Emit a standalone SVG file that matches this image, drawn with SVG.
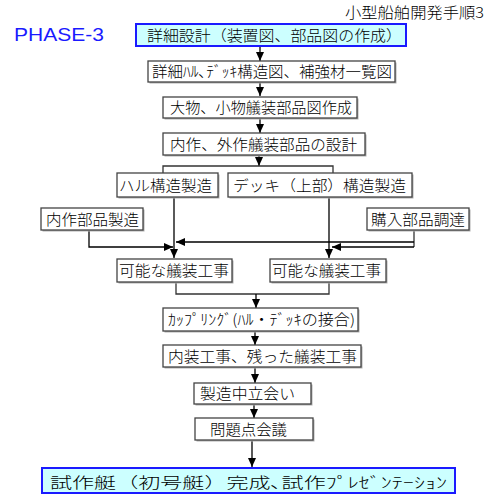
<svg xmlns="http://www.w3.org/2000/svg" width="499" height="500" viewBox="0 0 499 500">
<defs>
<marker id="ah" markerWidth="10" markerHeight="10" refX="9" refY="5" orient="auto" markerUnits="userSpaceOnUse">
<path d="M0,1 L9,5 L0,9 Z" fill="#000"/>
</marker>
</defs>
<style>
.box{fill:#fff;stroke:#444;stroke-width:1.3}
.sh{fill:#b0b0b0}
.hl{fill:#ccffff;stroke:#1a1aff;stroke-width:2}
.t{font-family:"Noto Sans CJK JP","Noto Sans",sans-serif;font-size:15px;font-weight:300;fill:#000}
.c{stroke:#333;stroke-width:1.3;fill:none}
.a{stroke:#000;stroke-width:1.3;fill:none;marker-end:url(#ah)}
</style>
<rect width="499" height="500" fill="#fff"/>
<text class="t" x="345" y="18" font-size="15" textLength="139" lengthAdjust="spacingAndGlyphs">小型船舶開発手順3</text>
<text x="14" y="41" font-family="Liberation Sans,Arial,sans-serif" font-size="18" fill="#1a1aff" textLength="90" lengthAdjust="spacingAndGlyphs">PHASE-3</text>

<g id="connectors">
<line class="a" x1="260" y1="47" x2="260" y2="61"/>
<line class="a" x1="260" y1="83" x2="260" y2="96"/>
<line class="a" x1="260" y1="119" x2="260" y2="133"/>
<line class="a" x1="259" y1="156" x2="259" y2="166"/>
<polyline class="c" points="163,174 163,166 333,166 333,173"/>
<line class="a" x1="174" y1="198" x2="174" y2="258"/>
<line class="a" x1="329" y1="198" x2="329" y2="258"/>
<polyline class="a" points="89,231 89,247 173,247"/>
<polyline class="c" points="414,231 414,247"/>
<line class="a" x1="414" y1="242" x2="176" y2="242"/>
<line class="a" x1="414" y1="247" x2="332" y2="247"/>
<polyline class="c" points="176,283 176,294 329,294 329,283"/>
<line class="a" x1="256" y1="294" x2="256" y2="308"/>
<line class="a" x1="255" y1="332" x2="255" y2="345"/>
<line class="a" x1="255" y1="368" x2="255" y2="383"/>
<line class="a" x1="254" y1="405" x2="254" y2="418"/>
<line class="a" x1="252" y1="441" x2="252" y2="467"/>
</g>

<g id="n1"><rect class="hl" x="136" y="24" width="270" height="22"/><text class="t" x="147" y="41" font-size="16" textLength="255" lengthAdjust="spacingAndGlyphs">詳細設計（装置図、部品図の作成）</text></g>
<g id="n2"><rect class="sh" x="149.5" y="62.5" width="247" height="21"/><rect class="box" x="148" y="61" width="247" height="21"/><text class="t" x="152" y="77" textLength="240" lengthAdjust="spacingAndGlyphs">詳細ﾊﾙ､ﾃﾞｯｷ構造図、補強材一覧図</text></g>
<g id="n3"><rect class="sh" x="164.5" y="98.5" width="194" height="21"/><rect class="box" x="163" y="97" width="194" height="21"/><text class="t" x="170" y="113" textLength="182" lengthAdjust="spacingAndGlyphs">大物、小物艤装部品図作成</text></g>
<g id="n4"><rect class="sh" x="164.5" y="134.5" width="202" height="22"/><rect class="box" x="163" y="133" width="202" height="22"/><text class="t" x="170" y="150" textLength="187" lengthAdjust="spacingAndGlyphs">内作、外作艤装部品の設計</text></g>
<g id="n5"><rect class="sh" x="118.5" y="174.5" width="101" height="24"/><rect class="box" x="117" y="173" width="101" height="24"/><text class="t" x="119" y="191" textLength="93" lengthAdjust="spacingAndGlyphs">ハル構造製造</text></g>
<g id="n6"><rect class="sh" x="229.5" y="174.5" width="184" height="24"/><rect class="box" x="228" y="173" width="184" height="24"/><text class="t" x="233" y="191" textLength="173" lengthAdjust="spacingAndGlyphs">デッキ（上部）構造製造</text></g>
<g id="n7"><rect class="sh" x="42.5" y="209.5" width="102" height="22"/><rect class="box" x="41" y="208" width="102" height="22"/><text class="t" x="46" y="225" textLength="93" lengthAdjust="spacingAndGlyphs">内作部品製造</text></g>
<g id="n8"><rect class="sh" x="368.5" y="209.5" width="102" height="22"/><rect class="box" x="367" y="208" width="102" height="22"/><text class="t" x="371" y="225" textLength="94" lengthAdjust="spacingAndGlyphs">購入部品調達</text></g>
<g id="n9"><rect class="sh" x="118.5" y="260.5" width="115" height="23"/><rect class="box" x="117" y="259" width="115" height="23"/><text class="t" x="119" y="276" textLength="110" lengthAdjust="spacingAndGlyphs">可能な艤装工事</text></g>
<g id="n10"><rect class="sh" x="271.5" y="260.5" width="116" height="23"/><rect class="box" x="270" y="259" width="116" height="23"/><text class="t" x="272" y="276" textLength="109" lengthAdjust="spacingAndGlyphs">可能な艤装工事</text></g>
<g id="n11"><rect class="sh" x="164.5" y="309.5" width="195" height="23"/><rect class="box" x="163" y="308" width="195" height="23"/><text class="t" x="168" y="325" textLength="187" lengthAdjust="spacingAndGlyphs">ｶｯﾌﾟﾘﾝｸﾞ(ﾊﾙ・ﾃﾞｯｷの接合)</text></g>
<g id="n12"><rect class="sh" x="164.5" y="346.5" width="198" height="22"/><rect class="box" x="163" y="345" width="198" height="22"/><text class="t" x="168" y="362" textLength="189" lengthAdjust="spacingAndGlyphs">内装工事、残った艤装工事</text></g>
<g id="n13"><rect class="sh" x="195.5" y="384.5" width="117" height="21"/><rect class="box" x="194" y="383" width="117" height="21"/><text class="t" x="200" y="399" textLength="95" lengthAdjust="spacingAndGlyphs">製造中立会い</text></g>
<g id="n14"><rect class="sh" x="196.5" y="419.5" width="118" height="22"/><rect class="box" x="195" y="418" width="118" height="22"/><text class="t" x="210" y="435" textLength="77" lengthAdjust="spacingAndGlyphs">問題点会議</text></g>
<g id="n15"><rect class="hl" x="42" y="468" width="413" height="25"/><text class="t" x="50" y="488" font-size="19" textLength="397" lengthAdjust="spacingAndGlyphs">試作艇（初号艇）完成､試作ﾌﾟﾚｾﾞﾝﾃｰｼｮﾝ</text></g>
</svg>
